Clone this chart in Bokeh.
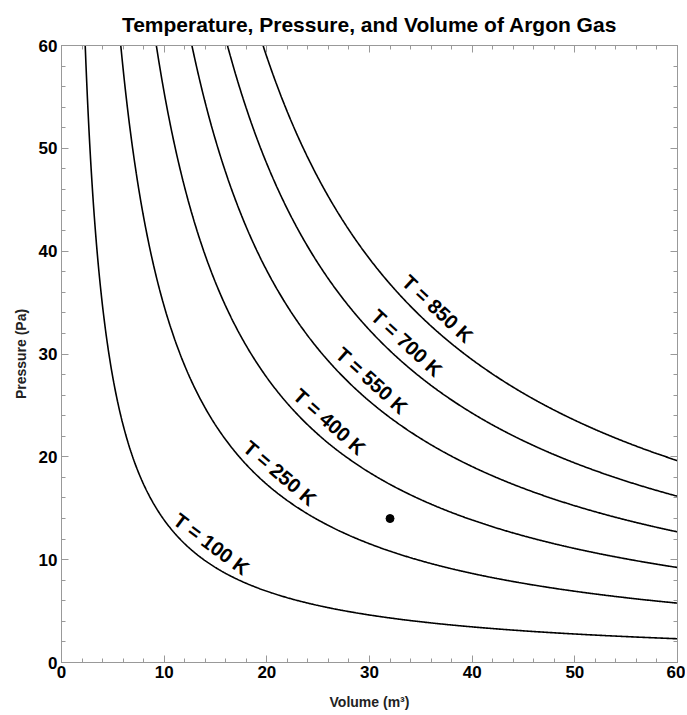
import numpy as np
from bokeh.plotting import figure
from bokeh.models import LinearAxis, SingleIntervalTicker, ColumnDataSource, Title, CustomJSTickFormatter
from bokeh.embed import file_html
from bokeh.resources import INLINE
from bokeh.core.properties import value

# ---- data ----
temperatures = [100, 250, 400, 550, 700, 850]          # K
label_texts = ["T = 100 K", "T = 250 K", "T = 400 K", "T = 550 K", "T = 700 K", "T = 850 K"]
label_volumes = [13.6, 20.2, 25.0, 29.1, 32.5, 35.5]   # where each label sits along its curve
nR = 8.314 / 6.0                                        # n*R (1/6 mol of argon)
point_v = [32]
point_p = [14]

FONT = "Liberation Sans"
FW, FH = 616, 617

p = figure(frame_width=FW, frame_height=FH, x_range=(0, 60), y_range=(0, 60),
           output_backend="svg", toolbar_location=None,
           min_border_left=61, min_border_right=8, min_border_top=45, min_border_bottom=52,
           x_axis_label="Volume (m³)", y_axis_label="Pressure (Pa)")
p.background_fill_color = "white"
p.border_fill_color = "white"
p.grid.visible = False
p.outline_line_color = "#999999"

bottom = p.xaxis[0]
left = p.yaxis[0]

# extra tick-only axes on top and right
top = LinearAxis(formatter=CustomJSTickFormatter(code="return ''"))
right = LinearAxis(formatter=CustomJSTickFormatter(code="return ''"))
p.add_layout(top, "above")
p.add_layout(right, "right")

p.add_layout(Title(text="Temperature, Pressure, and Volume of Argon Gas", align="center",
                   text_font=FONT, text_font_size="21px", text_font_style="bold",
                   text_color="black", standoff=20), "above")

for ax in [bottom, left, top, right]:
    ax.ticker = SingleIntervalTicker(interval=10, num_minor_ticks=5)
    ax.axis_line_color = "#999999"
    ax.major_tick_line_color = "#999999"
    ax.minor_tick_line_color = "#999999"
    ax.major_tick_in = 7
    ax.major_tick_out = 0
    ax.minor_tick_in = 4
    ax.minor_tick_out = 0
    ax.major_label_text_font = FONT
    ax.major_label_text_font_style = "bold"
    ax.major_label_text_font_size = "17px"
    ax.major_label_text_color = "black"
    ax.axis_label_text_font = FONT
    ax.axis_label_text_font_size = "14px"
    ax.axis_label_text_font_style = "bold"
    ax.axis_label_text_color = "#222222"

for ax in [top, right]:
    ax.major_label_standoff = 0

bottom.major_label_standoff = 3
left.major_label_standoff = 4
bottom.axis_label_standoff = 13
left.axis_label_standoff = 7

# isotherms
V = np.linspace(1.5, 60, 800)
for T in temperatures:
    p.line(V, nR * T / V, line_color="black", line_width=1.6)

# labels along the curves, offset to the upper side of each curve
sx = FW / 60.0
sy = FH / 60.0
d = 17.0
lx, ly, ang, xo, yo = [], [], [], [], []
for T, v in zip(temperatures, label_volumes):
    P = nR * T / v
    slope = -nR * T / v ** 2
    theta = np.arctan(slope * sy / sx)  # negative
    lx.append(v)
    ly.append(P)
    ang.append(theta)
    xo.append(d * np.sin(-theta))
    yo.append(-d * np.cos(theta))

src = ColumnDataSource(dict(x=lx, y=ly, text=label_texts, angle=ang, xo=xo, yo=yo))
p.text(x="x", y="y", text="text", angle="angle", x_offset="xo", y_offset="yo", source=src,
       text_font=value(FONT), text_font_style="bold", text_font_size="20px",
       text_align="center", text_baseline="middle", text_color="black")

p.scatter(point_v, point_p, size=8, color="black")

open("out.html", "w").write(file_html(p, INLINE))
